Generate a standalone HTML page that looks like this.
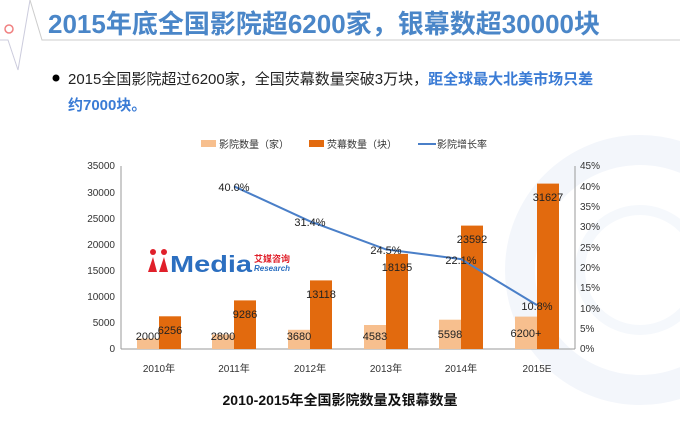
<!DOCTYPE html>
<html><head><meta charset="utf-8"><style>
body{margin:0;width:680px;height:416px;overflow:hidden;background:#fff;font-family:"Liberation Sans","Noto Sans CJK SC",sans-serif;}
</style></head><body>
<svg width="680" height="416" viewBox="0 0 680 416" xmlns="http://www.w3.org/2000/svg" font-family="Liberation Sans, Noto Sans CJK SC, sans-serif">
<circle cx="640" cy="270" r="120" fill="none" stroke="#f3f6fb" stroke-width="30"/>
<circle cx="640" cy="270" r="60" fill="none" stroke="#f5f8fc" stroke-width="10"/>
<path d="M0 40 L8 40 L18 70 L30 0" fill="none" stroke="#ccd" stroke-width="1"/>
<path d="M30 0 L42 40 L680 40" fill="none" stroke="#ccc" stroke-width="1"/>
<circle cx="9" cy="29" r="4" fill="none" stroke="#f08080" stroke-width="1.5"/>
<text x="48" y="33" font-size="26" font-weight="bold" fill="#4a86c8" textLength="552" lengthAdjust="spacingAndGlyphs">2015年底全国影院超6200家，银幕数超30000块</text>
<circle cx="56" cy="78" r="3.5" fill="#000"/>
<text x="68" y="84" font-size="15" fill="#222">2015全国影院超过6200家，全国荧幕数量突破3万块，<tspan fill="#3a7bd5" font-weight="bold">距全球最大北美市场只差</tspan></text>
<text x="68" y="110" font-size="15" fill="#3a7bd5" font-weight="bold">约7000块。</text>
<rect x="201" y="140" width="15" height="7" fill="#f7bf8e"/>
<text x="219" y="148" font-size="10" fill="#333">影院数量（家）</text>
<rect x="309" y="140" width="15" height="7" fill="#e26a0e"/>
<text x="327" y="148" font-size="10" fill="#333">荧幕数量（块）</text>
<line x1="418" y1="144" x2="436" y2="144" stroke="#4a7fc8" stroke-width="2"/>
<text x="437" y="148" font-size="10" fill="#333">影院增长率</text>
<g stroke="#999" stroke-width="1">
<line x1="121" y1="166" x2="121" y2="349"/><line x1="575" y1="166" x2="575" y2="349"/>
<line x1="121" y1="349" x2="575" y2="349"/>
</g>
<g font-size="10" fill="#333" text-anchor="end">
<text x="115" y="352">0</text><text x="115" y="326">5000</text><text x="115" y="300">10000</text><text x="115" y="274">15000</text><text x="115" y="248">20000</text><text x="115" y="222">25000</text><text x="115" y="196">30000</text><text x="115" y="169">35000</text>
</g>
<g font-size="10" fill="#333">
<text x="580" y="352">0%</text><text x="580" y="332">5%</text><text x="580" y="312">10%</text><text x="580" y="291">15%</text><text x="580" y="271">20%</text><text x="580" y="251">25%</text><text x="580" y="230">30%</text><text x="580" y="210">35%</text><text x="580" y="190">40%</text><text x="580" y="169">45%</text>
</g>
<g fill="#f7bf8e">
<rect x="137" y="338.5" width="22" height="10.5"/><rect x="212" y="334.4" width="22" height="14.6"/><rect x="288" y="329.8" width="22" height="19.2"/><rect x="364" y="325" width="22" height="24"/><rect x="439" y="319.7" width="22" height="29.3"/><rect x="515" y="316.6" width="22" height="32.4"/>
</g>
<g fill="#e26a0e">
<rect x="159" y="316.3" width="22" height="32.7"/><rect x="234" y="300.4" width="22" height="48.6"/><rect x="310" y="280.4" width="22" height="68.6"/><rect x="386" y="253.9" width="22" height="95.1"/><rect x="461" y="225.6" width="22" height="123.4"/><rect x="537" y="183.6" width="22" height="165.4"/>
</g>
<polyline points="234,186.3 310,221.3 386,249.4 461,259.1 537,305.1" fill="none" stroke="#4a7fc8" stroke-width="2"/>
<g font-size="11" fill="#222" text-anchor="middle">
<text x="148" y="340">2000</text><text x="170" y="334">6256</text>
<text x="223" y="340">2800</text><text x="245" y="318">9286</text>
<text x="299" y="340">3680</text><text x="321" y="298">13118</text>
<text x="375" y="340">4583</text><text x="397" y="271">18195</text>
<text x="450" y="338">5598</text><text x="472" y="243">23592</text>
<text x="526" y="337">6200+</text><text x="548" y="201">31627</text>
<text x="234" y="191">40.0%</text><text x="310" y="226">31.4%</text><text x="386" y="254">24.5%</text><text x="461" y="264">22.1%</text><text x="537" y="310">10.8%</text>
</g>
<g font-size="10" fill="#333" text-anchor="middle">
<text x="159" y="372">2010年</text><text x="234" y="372">2011年</text><text x="310" y="372">2012年</text><text x="386" y="372">2013年</text><text x="461" y="372">2014年</text><text x="537" y="372">2015E</text>
</g>
<circle cx="153" cy="252" r="3" fill="#e0202a"/><circle cx="164" cy="252" r="3" fill="#e0202a"/>
<path d="M148 272 L153 257 L157 272 Z M159 272 L164 257 L168 272 Z" fill="#e0202a"/>
<text x="170" y="272" font-size="23" font-weight="bold" fill="#2c6fc0" textLength="82" lengthAdjust="spacingAndGlyphs">Media</text>
<text x="254" y="262" font-size="9" font-weight="bold" fill="#e0202a">艾媒咨询</text>
<text x="254" y="271" font-size="8" font-style="italic" font-weight="bold" fill="#2c6fc0">Research</text>
<text x="340" y="405" font-size="14" font-weight="bold" fill="#111" text-anchor="middle">2010-2015年全国影院数量及银幕数量</text>
</svg>
</body></html>
